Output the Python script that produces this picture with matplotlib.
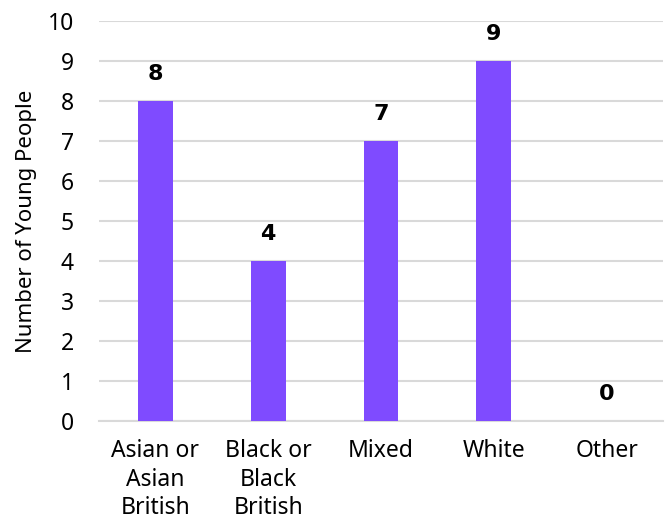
import matplotlib
matplotlib.use("Agg")
import matplotlib.pyplot as plt

categories = ["Asian or\nAsian\nBritish", "Black or\nBlack\nBritish", "Mixed", "White", "Other"]
values = [8, 4, 7, 9, 0]
yticks = list(range(0, 11))

plt.rcParams['font.family'] = ['Noto Sans', 'DejaVu Sans']

fig = plt.figure(figsize=(6.66, 5.21), dpi=100)
ax = fig.add_axes([0.1486, 0.192, 0.8469, 0.7677])

x = range(len(categories))
bars = ax.bar(x, values, width=0.31, color="#7F4BFF", zorder=3)
for xi, v in zip(x, values):
    ax.text(xi, v + 0.42, str(v), ha="center", va="bottom", fontsize=16,
            fontweight="bold", family=["DejaVu Sans"], color="black")

ax.set_xlim(-0.5, len(categories) - 0.5)
ax.set_ylim(0, 10)
ax.set_yticks(yticks)
ax.set_xticks(list(x))
ax.set_xticklabels(categories, fontsize=16.5, linespacing=1.25)
ax.tick_params(axis="y", labelsize=16.5, length=0, pad=18)
ax.tick_params(axis="x", length=0, pad=13)
ax.grid(axis="y", color="#d9d9d9", linewidth=1.5, zorder=0)
for s in ["top", "right", "left"]:
    ax.spines[s].set_visible(False)
ax.spines["bottom"].set_color("#d9d9d9")
ax.spines["bottom"].set_linewidth(1.5)
ax.set_ylabel("Number of Young People", fontsize=16, labelpad=8)

fig.savefig("out.png", dpi=100)
